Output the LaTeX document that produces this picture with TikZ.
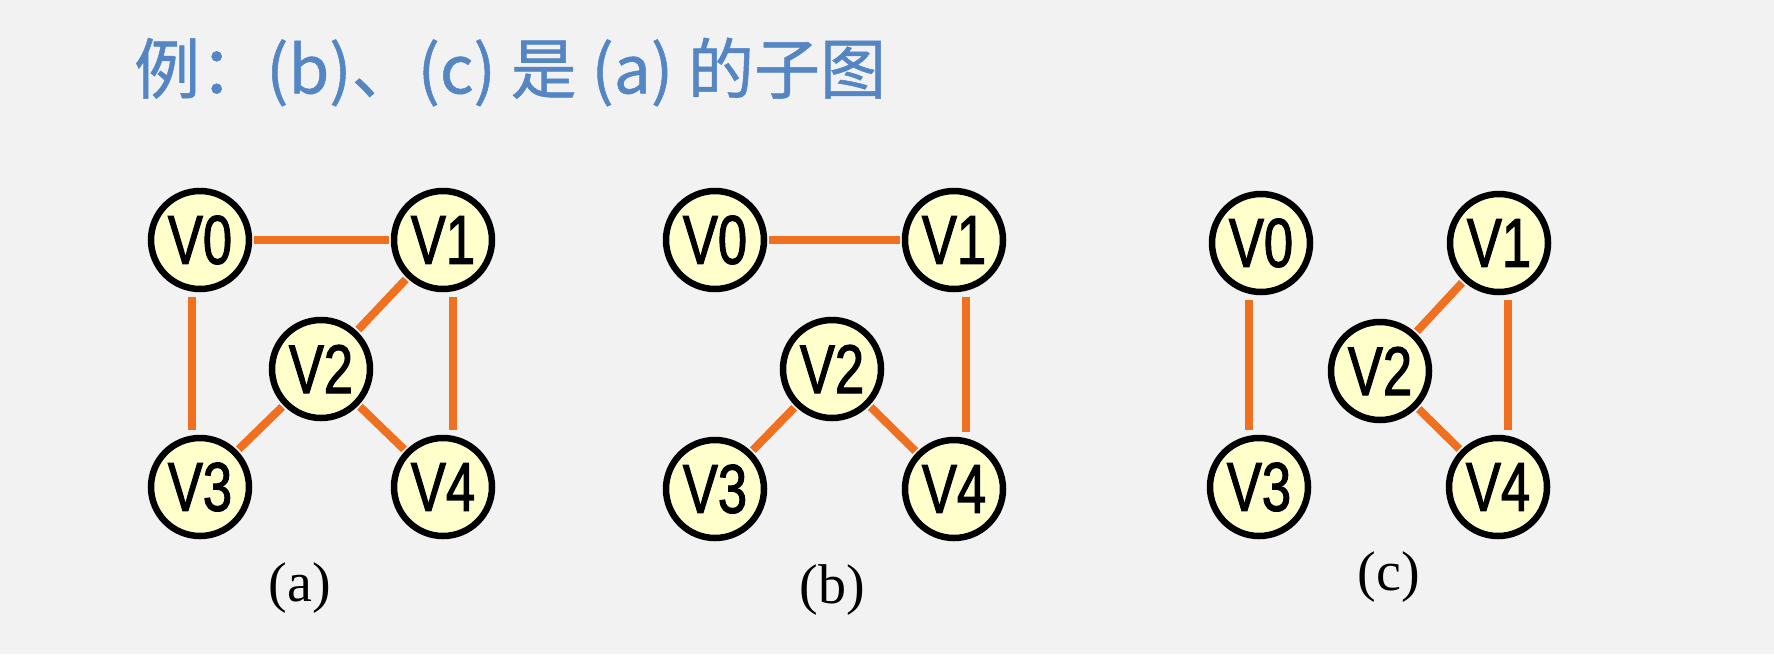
\documentclass[tikz,border=0pt]{standalone}
\usepackage{fontspec}
\setmainfont{Liberation Serif}
\newfontfamily\vfont{Liberation Sans}[FakeStretch=0.76,FakeBold=1.6]
\newfontfamily\cjk{Noto Sans CJK SC}[FakeBold=0.8]
\definecolor{bgc}{RGB}{242,242,242}
\definecolor{titleblue}{RGB}{84,134,196}
\definecolor{edgeor}{RGB}{240,112,32}
\definecolor{nodefill}{RGB}{255,255,204}
\begin{document}
\begin{tikzpicture}[x=1pt,y=-1pt,
  vert/.style={circle,draw=black,line width=6.5pt,fill=nodefill,minimum size=98pt,inner sep=0pt,
    font=\vfont\fontsize{69}{69}\selectfont},
  edge/.style={draw=edgeor,line width=8pt,shorten <=2pt,shorten >=2pt},
  vedge/.style={draw=edgeor,line width=8pt,shorten <=5pt,shorten >=5pt},
  sublabel/.style={font=\fontsize{56}{56}\selectfont}]
\fill[bgc] (0,0) rectangle (1774,654);
\useasboundingbox (0,0) rectangle (1774,654);
\node[anchor=west,text=titleblue,font=\cjk\fontsize{66}{66}\selectfont,inner sep=0pt] (title) at (134,72) {例：(b)、(c) 是 (a) 的子图};
% (a)
\node[vert] (a0) at (200,240) {V0};
\node[vert] (a1) at (443,240) {V1};
\node[vert] (a2) at (321,369) {V2};
\node[vert] (a3) at (200,487) {V3};
\node[vert] (a4) at (443,487) {V4};
\draw[edge] (a0) -- (a1);
\draw[edge] (a1) -- (a2);
\draw[edge] (a2) -- (a3);
\draw[edge] (a2) -- (a4);
\draw[vedge] ([xshift=-8pt]a0.south) -- ([xshift=-8pt]a3.north);
\draw[vedge] ([xshift=10pt]a1.south) -- ([xshift=10pt]a4.north);
\node[sublabel] (la) at (300,588) {(a)};
% (b)
\node[vert] (b0) at (715,240) {V0};
\node[vert] (b1) at (954,240) {V1};
\node[vert] (b2) at (832,369) {V2};
\node[vert] (b3) at (715,489) {V3};
\node[vert] (b4) at (954,489) {V4};
\draw[edge] (b0) -- (b1);
\draw[edge] (b2) -- (b3);
\draw[edge] (b2) -- (b4);
\draw[vedge] ([xshift=12pt]b1.south) -- ([xshift=12pt]b4.north);
\node[sublabel] (lb) at (832,590) {(b)};
% (c)
\node[vert] (c0) at (1261,243) {V0};
\node[vert] (c1) at (1499,243) {V1};
\node[vert] (c2) at (1380,371) {V2};
\node[vert] (c3) at (1259,487) {V3};
\node[vert] (c4) at (1498,487) {V4};
\draw[edge] (c1) -- (c2);
\draw[edge] (c2) -- (c4);
\draw[vedge] ([xshift=-12pt]c0.south) -- ([xshift=-10pt]c3.north);
\draw[vedge] ([xshift=9pt]c1.south) -- ([xshift=10pt]c4.north);
\node[sublabel] (lc) at (1389,577) {(c)};
\end{tikzpicture}
\end{document}
